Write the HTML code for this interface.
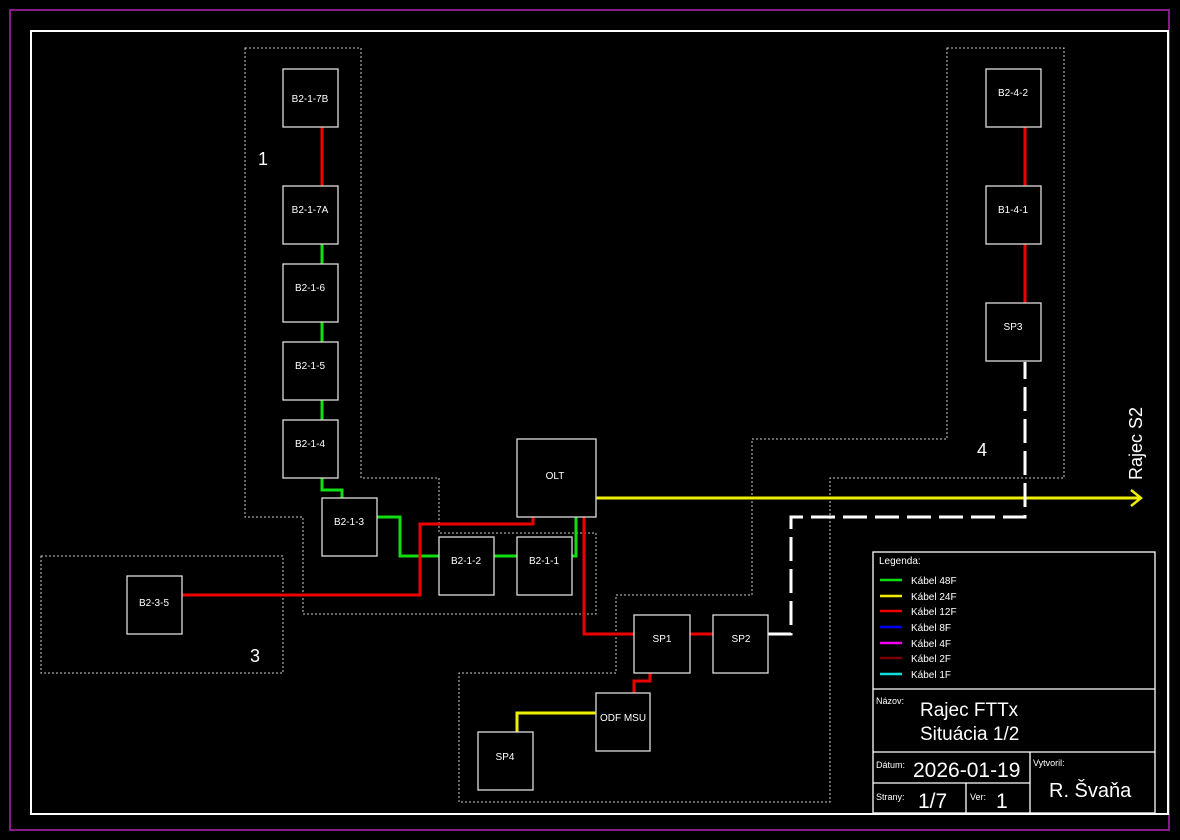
<!DOCTYPE html>
<html><head><meta charset="utf-8"><style>
body{margin:0;background:#000;}
svg{display:block;font-family:"Liberation Sans",sans-serif;}
</style></head><body>
<svg width="1180" height="840" viewBox="0 0 1180 840">
<rect x="0" y="0" width="1180" height="840" fill="#000"/>
<rect x="10" y="10" width="1159" height="820" fill="none" stroke="#8a1a8a" stroke-width="2"/>
<rect x="31" y="31" width="1137" height="783" fill="none" stroke="#fff" stroke-width="2"/>
<!-- dotted regions -->
<g fill="none" stroke="#ccc" stroke-width="1" stroke-dasharray="2,2">
<polygon points="245,48 361,48 361,478 439,478 439,533 596,533 596,614 303,614 303,517 245,517"/>
<rect x="41" y="556" width="242" height="117"/>
<polygon points="947,48 1064,48 1064,478 830,478 830,802 459,802 459,673 616,673 616,595 752,595 752,439 947,439"/>
</g>
<!-- connectors -->
<g fill="none" stroke-width="3">
<path d="M322,127 V186" stroke="#e00"/>
<path d="M322,244 V264 M322,322 V342 M322,400 V420" stroke="#1d1"/>
<path d="M322,478 V490 H342 V498" stroke="#1d1"/>
<path d="M377,517 H400 V556 H439 M494,556 H517 M572,556 H576 V517" stroke="#1d1"/>
<path d="M533,517 V524 H420 V595 H182" stroke="#e00"/>
<path d="M584,517 V634 H634" stroke="#e00"/>
<path d="M690,634 H713" stroke="#e00"/>
<path d="M650,673 V681 H634 V693" stroke="#e00"/>
<path d="M596,713 H517 V732" stroke="#ee0"/>
<path d="M596,498 H1140" stroke="#ee0"/>
<path d="M1131,490 L1141,498 L1131,506" stroke="#ee0" stroke-width="2.5"/>
<path d="M1025,127 V186 M1025,244 V303" stroke="#e00"/>
<path d="M768,634 H791 V517 H1025 V362" stroke="#fff" stroke-dasharray="24,8"/>
</g>
<!-- boxes -->
<g fill="#000" stroke="#ddd" stroke-width="1.3">
<rect x="283" y="69" width="55" height="58"/>
<rect x="283" y="186" width="55" height="58"/>
<rect x="283" y="264" width="55" height="58"/>
<rect x="283" y="342" width="55" height="58"/>
<rect x="283" y="420" width="55" height="58"/>
<rect x="322" y="498" width="55" height="58"/>
<rect x="439" y="537" width="55" height="58"/>
<rect x="517" y="537" width="55" height="58"/>
<rect x="517" y="439" width="79" height="78"/>
<rect x="127" y="576" width="55" height="58"/>
<rect x="634" y="615" width="56" height="58"/>
<rect x="713" y="615" width="55" height="58"/>
<rect x="596" y="693" width="54" height="58"/>
<rect x="478" y="732" width="55" height="58"/>
<rect x="986" y="69" width="55" height="58"/>
<rect x="986" y="186" width="55" height="58"/>
<rect x="986" y="303" width="55" height="58"/>
</g>
<g fill="#fff" font-size="10" text-anchor="middle">
<text x="310" y="102">B2-1-7B</text>
<text x="310" y="213">B2-1-7A</text>
<text x="310" y="291">B2-1-6</text>
<text x="310" y="369">B2-1-5</text>
<text x="310" y="447">B2-1-4</text>
<text x="349" y="525">B2-1-3</text>
<text x="466" y="564">B2-1-2</text>
<text x="544" y="564">B2-1-1</text>
<text x="555" y="479">OLT</text>
<text x="154" y="606">B2-3-5</text>
<text x="662" y="642">SP1</text>
<text x="741" y="642">SP2</text>
<text x="623" y="721">ODF MSU</text>
<text x="505" y="760">SP4</text>
<text x="1013" y="96">B2-4-2</text>
<text x="1013" y="213">B1-4-1</text>
<text x="1013" y="330">SP3</text>
</g>
<g fill="#fff" font-size="18">
<text x="258" y="165">1</text>
<text x="250" y="662">3</text>
<text x="977" y="456">4</text>
<text transform="translate(1142,480) rotate(-90)">Rajec S2</text>
</g>
<!-- title block -->
<g fill="none" stroke="#fff" stroke-width="1.3">
<rect x="873" y="552" width="282" height="261"/>
<line x1="873" y1="689" x2="1155" y2="689"/>
<line x1="873" y1="752" x2="1155" y2="752"/>
<line x1="873" y1="783" x2="1030" y2="783"/>
<line x1="1030" y1="752" x2="1030" y2="813"/>
<line x1="966" y1="783" x2="966" y2="813"/>
</g>
<g stroke-width="2.5">
<line x1="880" y1="580" x2="902" y2="580" stroke="#1d1"/>
<line x1="880" y1="596" x2="902" y2="596" stroke="#ee0"/>
<line x1="880" y1="611" x2="902" y2="611" stroke="#e00"/>
<line x1="880" y1="627" x2="902" y2="627" stroke="#00e"/>
<line x1="880" y1="643" x2="902" y2="643" stroke="#e0e"/>
<line x1="880" y1="658" x2="902" y2="658" stroke="#700"/>
<line x1="880" y1="674" x2="902" y2="674" stroke="#1dd"/>
</g>
<g fill="#fff" font-size="10">
<text x="879" y="564">Legenda:</text>
<text x="911" y="584">Kábel 48F</text>
<text x="911" y="600">Kábel 24F</text>
<text x="911" y="615">Kábel 12F</text>
<text x="911" y="631">Kábel 8F</text>
<text x="911" y="647">Kábel 4F</text>
<text x="911" y="662">Kábel 2F</text>
<text x="911" y="678">Kábel 1F</text>
<text x="876" y="704" font-size="9">Názov:</text>
<text x="876" y="768" font-size="9">Dátum:</text>
<text x="876" y="800" font-size="9">Strany:</text>
<text x="970" y="800" font-size="9">Ver:</text>
<text x="1033" y="766" font-size="9">Vytvoril:</text>
</g>
<g fill="#fff" font-size="19">
<text x="920" y="716">Rajec FTTx</text>
<text x="920" y="740">Situácia 1/2</text>
<text x="913" y="777" font-size="21">2026-01-19</text>
<text x="918" y="808" font-size="21">1/7</text>
<text x="996" y="808" font-size="21">1</text>
<text x="1049" y="797" font-size="20">R. Švaňa</text>
</g>
</svg>
</body></html>
